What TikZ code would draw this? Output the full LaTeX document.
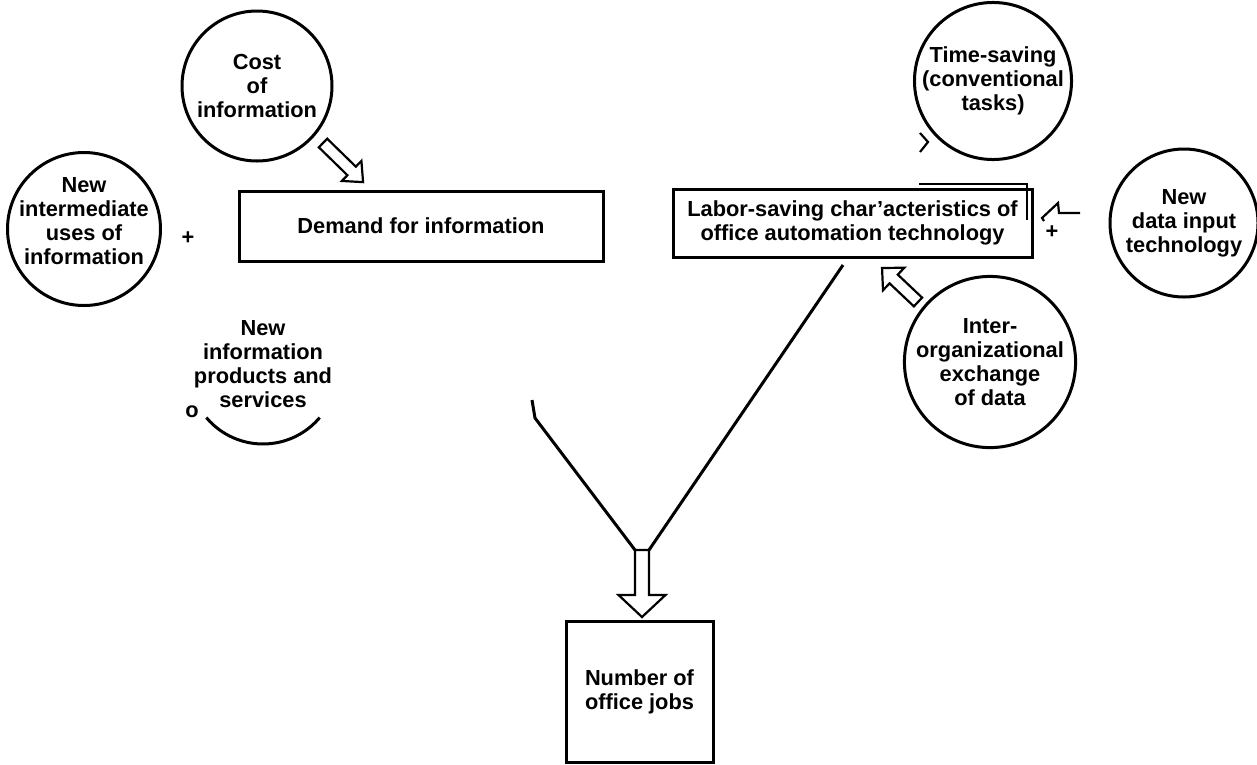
\documentclass[tikz,border=0pt]{standalone}
\usepackage{fontspec}
\setmainfont{Liberation Sans}
\usetikzlibrary{calc}
\newcommand\hollowarrow[6]{% tail, angle, length, shaft half width, head half width, head length
  \begin{scope}[shift={(#1)}, rotate=#2]
    \draw[hollow] (0,-#4) -- ({#3-#6},-#4) -- ({#3-#6},-#5) -- (#3,0) -- ({#3-#6},#5) -- ({#3-#6},#4) -- (0,#4) -- cycle;
  \end{scope}}
\begin{document}
\begin{tikzpicture}[x=1pt,y=-1pt,
  lbl/.style={font=\fontsize{21.8}{24}\selectfont\bfseries, align=center, inner sep=0pt},
  bubble/.style={lbl, draw, circle, line width=3pt, minimum size=#1},
  box/.style={lbl, draw, rectangle, line width=3pt},
  link/.style={line width=3pt, line join=miter},
  hollow/.style={line width=2.2pt, fill=white, line join=miter},
  frag/.style={line width=2.2pt, line join=miter}]
\useasboundingbox (0,0) rectangle (1257,764);

% circles
\node[bubble=150pt] (cost) at (257,86) {Cost\\of\\information};
\node[bubble=153pt] (inter) at (84,229) {};
\node[lbl] (intert) at (84,221) {New\\intermediate\\uses of\\information};
\node[bubble=150pt] (time) at (993,81) {Time-saving\\(conventional\\tasks)};
\node[bubble=148pt] (data) at (1184,223) {New\\data input\\technology};
\node[bubble=154pt] (exch) at (990,362) {Inter-\\organizational\\exchange\\of data};

% products (partial circle)
\node[lbl] (prod) at (263,364) {New\\information\\products and\\services};
\coordinate (pc) at (263,370);
\draw[link] ($(pc)+(140:74)$) arc[start angle=140, end angle=40, radius=74];

% boxes
\node[box, minimum width=364pt, minimum height=70pt] (demand) at (421,226) {Demand for information};
\node[box, minimum width=359pt, minimum height=68pt] (labor) at (852.5,223) {Labor-saving char’acteristics of\\office automation technology};
\node[box, minimum width=147pt, minimum height=141pt] (jobs) at (639.5,691.5) {Number of\\office jobs};

% signs
\node[lbl] (p1) at (188,238) {+};
\node[lbl] (p2) at (1052,232) {+};
\node[lbl] (o1) at (192,412) {o};

% V connectors
\coordinate (l0) at (532,400);
\coordinate (l1) at (535,418);
\coordinate (vl) at (635,550);
\coordinate (r0) at (843,265);
\coordinate (vr) at (649,550);
\draw[link] (l0) -- (l1) -- (vl);
\draw[link] (r0) -- (vr);

% hollow arrows
\coordinate (cat) at (323,143);
\hollowarrow{cat}{-44.3}{56}{6}{14}{16}
\coordinate (eat) at (918,302);
\hollowarrow{eat}{136.6}{49.5}{6}{15.5}{16}
\coordinate (jat) at (642,550);
\hollowarrow{jat}{-90}{67}{7}{23.5}{22}

% fragments
\draw[frag] (919,184) -- (1027,184) -- (1027,220);
\draw[frag] (920,133) -- (928,142) -- (920,152);
\draw[frag] (1080,213) -- (1059,213) -- (1058,203) -- (1042,218) -- (1044,221);
\end{tikzpicture}
\end{document}
